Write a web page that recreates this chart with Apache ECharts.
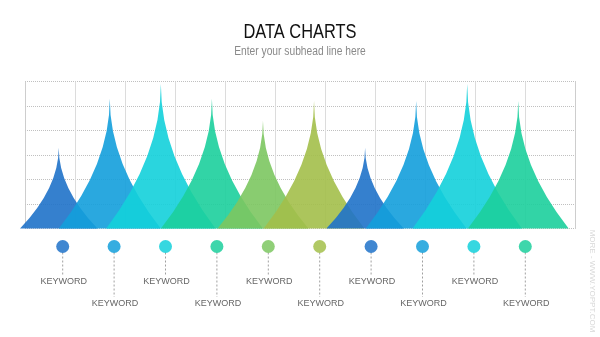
<!DOCTYPE html>
<html>
<head>
<meta charset="utf-8">
<script src="https://cdn.jsdelivr.net/npm/echarts@6/dist/echarts.min.js"></script>
<style>html,body{margin:0;padding:0;background:#fff}#c{width:600px;height:337px}</style>
</head>
<body>
<div id="c"></div>
<script>
// ---- data ----
const categories = ['KEYWORD','KEYWORD','KEYWORD','KEYWORD','KEYWORD','KEYWORD','KEYWORD','KEYWORD','KEYWORD','KEYWORD'];
const values = [33, 53, 59, 53, 44, 52, 33, 52, 59, 52];
const palette = ['#1f72c9','#139fdb','#13d0da','#1ccf9c','#7cc760','#a3bf4a'];
const titleText = 'DATA CHARTS';
const subText = 'Enter your subhead line here';
const watermark = 'MORE - WWW.YOPPT.COM';

const SANS = '"Liberation Sans",Arial,sans-serif';

const chart = echarts.init(document.getElementById('c'), null, {renderer:'canvas'});

const gridColors = ['rgba(0,0,0,0)'];
for (let i = 0; i < 10; i++) gridColors.push('#dcdcdc');
gridColors.push('rgba(0,0,0,0)');

chart.setOption({
  animation: false,
  backgroundColor: '#fff',
  grid: [
    {left: 25, right: 25, top: 81.5, bottom: 108.5},       // background lines
    {left: 33.2, right: 56.2, top: 81.5, bottom: 108.5},   // spikes
    {left: 37, right: 49, top: 246.5, bottom: 33}          // keyword markers
  ],
  xAxis: [
    {gridIndex: 0, type: 'value', min: 0, max: 11, interval: 1,
     axisLine: {show: false}, axisTick: {show: false}, axisLabel: {show: false},
     splitLine: {show: true, lineStyle: {color: gridColors, width: 1, type: 'solid'}}},
    {gridIndex: 1, type: 'category', data: categories, show: false},
    {gridIndex: 2, type: 'category', data: categories, show: false}
  ],
  yAxis: [
    {gridIndex: 0, type: 'value', min: 0, max: 60, interval: 10, position: 'left',
     axisLine: {show: true, lineStyle: {color: '#c8c8c8', type: 'dotted'}},
     axisTick: {show: false}, axisLabel: {show: false},
     splitLine: {show: true, lineStyle: {color: '#c0c0c0', type: 'dotted'}}},
    {gridIndex: 0, type: 'value', min: 0, max: 60, interval: 10, position: 'right',
     axisLine: {show: true, lineStyle: {color: '#c8c8c8', type: 'dotted'}},
     axisTick: {show: false}, axisLabel: {show: false}, splitLine: {show: false}},
    {gridIndex: 1, type: 'value', min: 0, max: 60, show: false},
    {gridIndex: 2, type: 'value', min: 0, max: 1, inverse: true, show: false}
  ],
  series: [
    {
      type: 'custom', xAxisIndex: 1, yAxisIndex: 2, clip: false,
      data: values.map((v, i) => [i, v]),
      renderItem: function (params, api) {
        const i = api.value(0);
        const top = api.coord([i, api.value(1)]);
        const base = api.coord([i, 0]);
        const h = base[1] - top[1];
        const hw = 18.5 + 0.25 * h;
        const x = top[0], y0 = base[1], y1 = top[1], ym = (y0 + y1) / 2;
        return {
          type: 'path',
          shape: {pathData:
            'M' + (x - hw) + ',' + y0 +
            ' Q' + x + ',' + ym + ' ' + x + ',' + y1 +
            ' Q' + x + ',' + ym + ' ' + (x + hw) + ',' + y0 + ' Z'},
          style: {fill: palette[i % palette.length], opacity: 0.9}
        };
      }
    },
    {
      type: 'custom', xAxisIndex: 2, yAxisIndex: 3, clip: false,
      data: categories.map((c, i) => [i, 0]),
      renderItem: function (params, api) {
        const i = api.value(0);
        const lower = i % 2 === 1;
        const c = api.coord([i, 0]);
        const lineEnd = api.coord([i, lower ? 0.878 : 0.496]);
        const lab = api.coord([i, lower ? 1 : 0.612]);
        return {
          type: 'group',
          children: [
            {type: 'line', shape: {x1: c[0], y1: c[1] + 6, x2: c[0], y2: lineEnd[1]},
             style: {stroke: '#a0a0a0', lineWidth: 1, lineDash: [2, 2]}},
            {type: 'circle', shape: {cx: c[0], cy: c[1], r: 6.5},
             style: {fill: palette[i % palette.length], opacity: 0.85}},
            {type: 'text', x: lab[0] + 1, y: lab[1],
             style: {text: categories[i], align: 'center', verticalAlign: 'middle',
                     font: '9px ' + SANS, fill: '#666'}}
          ]
        };
      }
    }
  ],
  graphic: [
    {type: 'text', x: 300, y: 32, scaleX: 0.82,
     style: {text: titleText, align: 'center', verticalAlign: 'middle',
             font: '20px ' + SANS, fill: '#111'}},
    {type: 'text', x: 300, y: 52, scaleX: 0.82,
     style: {text: subText, align: 'center', verticalAlign: 'middle',
             font: '12.5px ' + SANS, fill: '#8a8a8a'}},
    {type: 'text', x: 592, y: 281, rotation: -Math.PI / 2,
     style: {text: watermark, align: 'center', verticalAlign: 'middle',
             font: '8px ' + SANS, fill: '#d8d8d8'}}
  ]
});
</script>
</body>
</html>
